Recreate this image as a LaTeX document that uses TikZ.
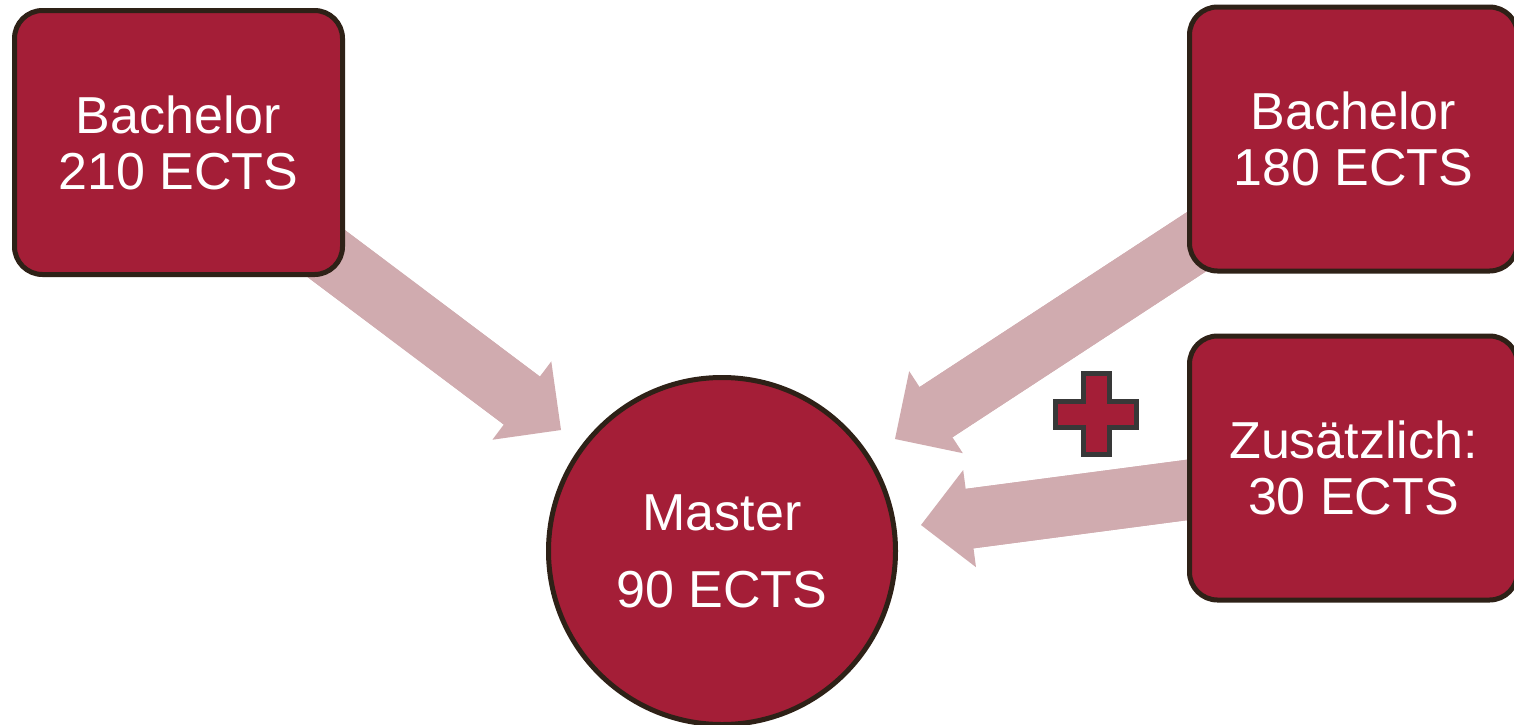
\documentclass[tikz,border=0pt]{standalone}
\usepackage{fontspec}
\setmainfont{Liberation Sans}
\usetikzlibrary{arrows.meta,backgrounds}
\definecolor{boxred}{HTML}{A41E37}
\definecolor{edgebrown}{HTML}{2E2117}
\definecolor{arrowpink}{HTML}{D0ABAF}
\definecolor{plusgray}{HTML}{383838}
\tikzset{
  degbox/.style={draw=edgebrown, line width=5pt, fill=boxred, rounded corners=28pt,
    minimum width=328pt, minimum height=264pt, text=white, align=center,
    font=\fontsize{52}{56}\selectfont, inner sep=0pt},
  mastercircle/.style={circle, draw=edgebrown, line width=5pt, fill=boxred,
    minimum size=347pt, text=white, align=center,
    font=\fontsize{52}{77}\selectfont, inner sep=0pt},
  bigarrow/.style={draw=arrowpink, line width=60pt,
    -{Triangle[length=49pt, width=98pt, line width=0pt, fill=arrowpink]}},
  arrowshaft/.style={draw=arrowpink, line width=60pt, shorten >=38pt},
  plussign/.style={draw=plusgray, line width=5pt, fill=boxred, line join=miter}
}
\begin{document}
\begin{tikzpicture}[x=1pt, y=-1pt]
  \useasboundingbox (0,0) rectangle (1514,724);

  % nodes
  \node[degbox] (b210) at (178.5,142.5) {Bachelor\\210 ECTS};
  \node[degbox] (b180) at (1353.5,139) {Bachelor\\180 ECTS};
  \node[degbox] (extra) at (1353.5,468) {Zusätzlich:\\30 ECTS};
  \node[mastercircle] (master) at (722,551) {Master\\90 ECTS};

  % arrow tips
  \coordinate (tipA) at (561,430);
  \coordinate (tipB) at (895,439);
  \coordinate (tipC) at (921,525);

  \begin{scope}[on background layer]
    \fill[white] (0,0) rectangle (1514,724);
    \draw[bigarrow] (b210.center) -- (tipA);
    \draw[bigarrow] (b180.center) -- (tipB);
    \draw[bigarrow] (extra.center) -- (tipC);
    \draw[arrowshaft] (b210.center) -- (tipA);
    \draw[arrowshaft] (b180.center) -- (tipB);
    \draw[arrowshaft] (extra.center) -- (tipC);
  \end{scope}

  % plus sign
  \draw[plussign] (1083,373.5) -- (1109,373.5) -- (1109,401) -- (1136.5,401)
    -- (1136.5,427) -- (1109,427) -- (1109,454.5) -- (1083,454.5) -- (1083,427)
    -- (1055.5,427) -- (1055.5,401) -- (1083,401) -- cycle;
\end{tikzpicture}
\end{document}
